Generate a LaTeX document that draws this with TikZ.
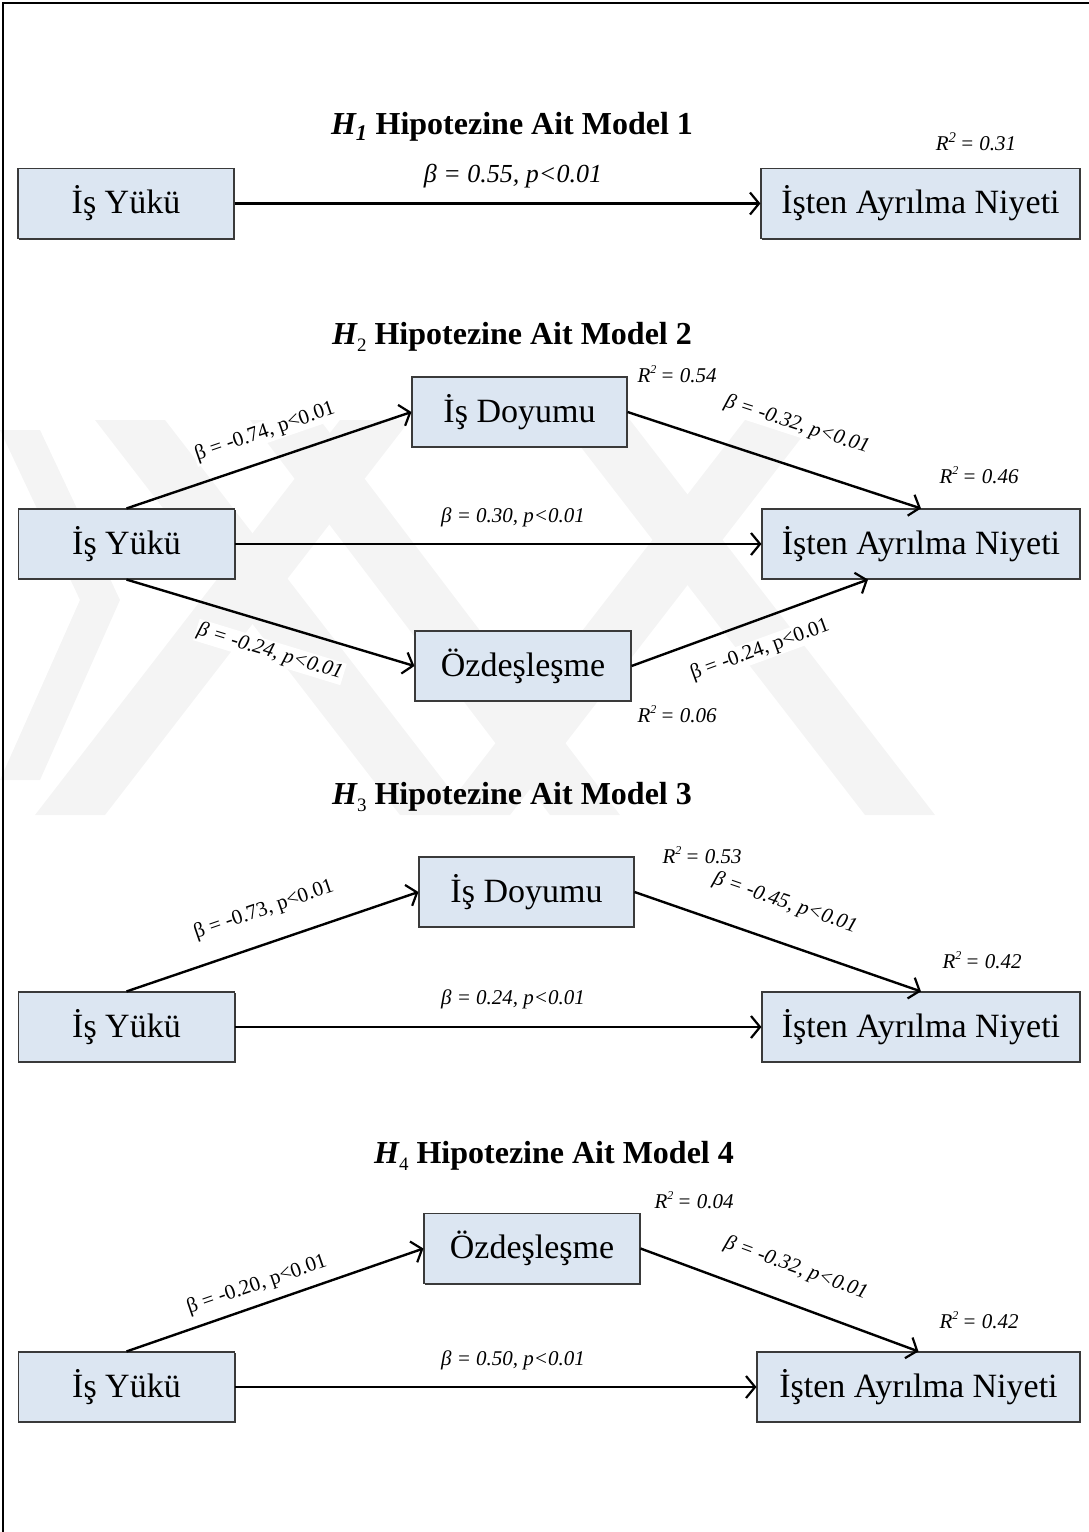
\documentclass[tikz,border=0pt]{standalone}
\usepackage{fontspec}
\setmainfont{Liberation Serif}
\usetikzlibrary{arrows.meta,shadows}

\definecolor{boxfill}{HTML}{DCE6F2}
\definecolor{boxline}{HTML}{3A3A3A}
\definecolor{wmark}{HTML}{F4F4F4}

\tikzset{
  varbox/.style={draw=boxline, line width=1.1pt, fill=boxfill, inner sep=0pt,
    minimum height=70pt,
    drop shadow={shadow xshift=1.3pt, shadow yshift=-1.3pt, fill=boxline, opacity=1},
    font=\fontsize{34}{37}\selectfont},
  conn/.style={line width=2.4pt, -{Straight Barb[length=9pt,width=22pt,line width=2.2pt]}},
  heading/.style={inner sep=1pt, font=\fontsize{32}{36}\selectfont\bfseries},
  coef/.style={fill=white, inner sep=1.5pt, font=\fontsize{21}{24}\selectfont\itshape},
  coefup/.style={fill=white, inner sep=1.5pt, font=\fontsize{21}{24}\selectfont},
  rsq/.style={fill=white, inner sep=1.5pt, font=\fontsize{21}{24}\selectfont\itshape},
  wband/.style={fill=wmark, draw=none},
}

\newcommand{\rsqval}[1]{R\textsuperscript{2}\,= #1}
\newcommand{\rsqhigh}[1]{R\raisebox{1.0ex}{\fontsize{12}{12}\selectfont 2}\hspace{4pt}= #1}
\newcommand{\hsubA}{{\itshape H}\textsubscript{\itshape 1}}
\newcommand{\hsub}[1]{{\itshape H}\raisebox{-0.45ex}{\fontsize{19}{19}\selectfont\mdseries #1}}

\begin{document}
\begin{tikzpicture}[x=1pt, y=-1pt]
  \useasboundingbox (0,0) rectangle (1089,1532);

  % faint background emblem: diagonal bands behind the second model
  \fill[wband] (95,420) -- (165,420) -- (470,815) -- (400,815) -- cycle;
  \fill[wband] (250,420) -- (320,420) -- (620,815) -- (550,815) -- cycle;
  \fill[wband] (560,420) -- (630,420) -- (935,815) -- (865,815) -- cycle;
  \fill[wband] (35,815) -- (105,815) -- (410,420) -- (340,420) -- cycle;
  \fill[wband] (440,815) -- (510,815) -- (815,420) -- (745,420) -- cycle;
  \fill[wband] (0,430) -- (40,430) -- (120,600) -- (40,780) -- (0,780) -- (80,600) -- cycle;

  % page frame (top and left rules)
  \draw[line width=2pt] (3,1532) -- (3,3) -- (1089,3);

  % ---------- Model 1 ----------
  \node[heading] (t1) at (512,127) {\hsubA{} Hipotezine Ait Model 1};
  \node[varbox, minimum width=216pt] (y1) at (126,203.5) {İş Yükü};
  \node[varbox, minimum width=319pt] (n1) at (920.5,203.5) {İşten Ayrılma Niyeti};
  \draw[conn] (y1.east) -- (n1.west);
  \node[coef, font=\fontsize{26}{30}\selectfont\itshape] (b1) at (513,176) {β = 0.55, p<0.01};
  \node[rsq] (r1) at (976,142) {\rsqval{0.31}};

  % ---------- Model 2 ----------
  \node[heading] (t2) at (512,337) {\hsub{2} Hipotezine Ait Model 2};
  \node[varbox, minimum width=216pt] (y2) at (126.5,544) {İş Yükü};
  \node[varbox, minimum width=215pt] (d2) at (519.5,412) {İş Doyumu};
  \node[varbox, minimum width=318pt] (n2) at (921,544) {İşten Ayrılma Niyeti};
  \node[varbox, minimum width=216pt] (o2) at (523,666) {Özdeşleşme};
  \draw[conn] (y2.north) -- (d2.west);
  \draw[conn] (d2.east) -- (n2.north);
  \draw[conn] (y2.east) -- (n2.west);
  \draw[conn] (y2.south) -- (o2.west);
  \draw[conn] (o2.east) -- ([xshift=-53pt]n2.south);
  \node[coefup, rotate=19] (b2a) at (265,432) {β = -0.74, p<0.01};
  \node[coef, rotate=-18] (b2b) at (797,425) {β = -0.32, p<0.01};
  \node[coef] (b2c) at (513,517) {β = 0.30, p<0.01};
  \node[coef, rotate=-17] (b2d) at (270,652) {β = -0.24, p<0.01};
  \node[coefup, rotate=20] (b2e) at (760,650) {β = -0.24, p<0.01};
  \node[rsq] (r2a) at (677,374) {\rsqhigh{0.54}};
  \node[rsq] (r2b) at (979,475) {\rsqhigh{0.46}};
  \node[rsq] (r2c) at (677,714) {\rsqhigh{0.06}};

  % ---------- Model 3 ----------
  \node[heading] (t3) at (512,797) {\hsub{3} Hipotezine Ait Model 3};
  \node[varbox, minimum width=216pt] (y3) at (126.5,1027) {İş Yükü};
  \node[varbox, minimum width=215pt] (d3) at (526.5,892) {İş Doyumu};
  \node[varbox, minimum width=318pt] (n3) at (921,1027) {İşten Ayrılma Niyeti};
  \draw[conn] (y3.north) -- (d3.west);
  \draw[conn] (d3.east) -- (n3.north);
  \draw[conn] (y3.east) -- (n3.west);
  \node[coefup, rotate=19] (b3a) at (264,910) {β = -0.73, p<0.01};
  \node[coef, rotate=-19] (b3b) at (785,903) {β = -0.45, p<0.01};
  \node[coef] (b3c) at (513,999) {β = 0.24, p<0.01};
  \node[rsq] (r3a) at (702,855) {\rsqhigh{0.53}};
  \node[rsq] (r3b) at (982,960) {\rsqhigh{0.42}};

  % ---------- Model 4 ----------
  \node[heading] (t4) at (554,1156) {\hsub{4} Hipotezine Ait Model 4};
  \node[varbox, minimum width=216pt] (y4) at (126.5,1387) {İş Yükü};
  \node[varbox, minimum width=216pt] (o4) at (532,1248.5) {Özdeşleşme};
  \node[varbox, minimum width=323pt] (n4) at (918.5,1387) {İşten Ayrılma Niyeti};
  \draw[conn] (y4.north) -- (o4.west);
  \draw[conn] (o4.east) -- (n4.north);
  \draw[conn] (y4.east) -- (n4.west);
  \node[coefup, rotate=19] (b4a) at (257,1285) {β = -0.20, p<0.01};
  \node[coef, rotate=-20] (b4b) at (796,1268) {β = -0.32, p<0.01};
  \node[coef] (b4c) at (513,1360) {β = 0.50, p<0.01};
  \node[rsq] (r4a) at (694,1200) {\rsqhigh{0.04}};
  \node[rsq] (r4b) at (979,1320) {\rsqhigh{0.42}};
\end{tikzpicture}
\end{document}
